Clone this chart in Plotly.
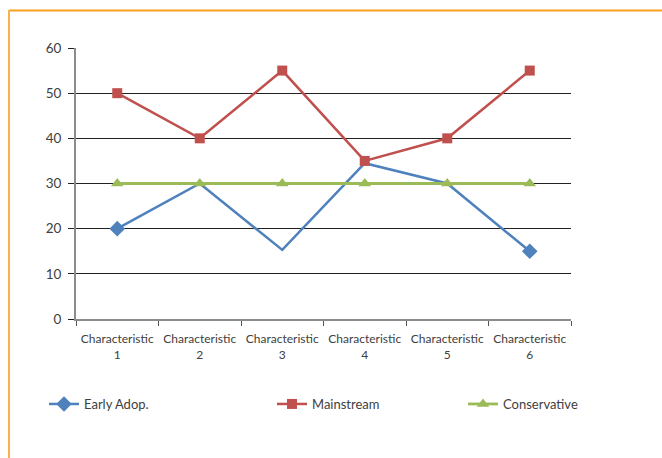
import plotly.graph_objects as go

categories = ["Characteristic<br>1", "Characteristic<br>2", "Characteristic<br>3",
              "Characteristic<br>4", "Characteristic<br>5", "Characteristic<br>6"]
early_adop = [20, 30, 15.3, 34.5, 30, 15]
mainstream = [50, 40, 55, 35, 40, 55]
conservative = [30, 30, 30, 30, 30, 30]

FONT = "Lato"
TXT = "#404040"
BLUE, RED, GREEN = "#4F81BD", "#C0504D", "#9BBB59"
CLEAR = "rgba(0,0,0,0)"

fig = go.Figure()
fig.add_trace(go.Scatter(
    x=categories, y=early_adop, name="Early Adop.", mode="lines+markers",
    line=dict(color=BLUE, width=2.5),
    marker=dict(symbol="diamond", size=12,
                color=[BLUE, CLEAR, CLEAR, CLEAR, CLEAR, BLUE]),
    legend="legend2"))
fig.add_trace(go.Scatter(
    x=categories, y=mainstream, name="Mainstream", mode="lines+markers",
    line=dict(color=RED, width=2.5),
    marker=dict(symbol="square", size=10, color=RED),
    legend="legend3"))
fig.add_trace(go.Scatter(
    x=categories, y=conservative, name="Conservative", mode="lines+markers",
    line=dict(color=GREEN, width=2.8),
    marker=dict(symbol="triangle-up", size=11, color=GREEN),
    legend="legend4"))

W, H = 662, 458
L, R, T, B = 76, 571, 48, 319
pw, ph = R - L, B - T

def px(x):
    return (x - L) / pw

def py(y):
    return (B - y) / ph

leg = dict(orientation="h", yanchor="middle", xanchor="left", y=py(404),
           font=dict(family=FONT, size=13, color=TXT), bgcolor="rgba(0,0,0,0)",
           itemwidth=30)

fig.update_layout(
    width=W, height=H, margin=dict(l=L, r=W - R, t=T, b=H - B),
    paper_bgcolor="white", plot_bgcolor="white",
    font=dict(family=FONT, color=TXT),
    showlegend=True,
    legend2=dict(leg, x=px(44)),
    legend3=dict(leg, x=px(272)),
    legend4=dict(leg, x=px(463)),
    xaxis=dict(
        type="category", tickson="boundaries", ticks="outside", ticklen=5,
        tickcolor="#555555", showline=True, linecolor="#8C8C8C", linewidth=2,
        showgrid=False, tickfont=dict(family=FONT, size=12, color=TXT),
        ticklabelstandoff=8, range=[-0.5, 5.5]),
    yaxis=dict(
        range=[0, 60], dtick=10, ticks="outside", ticklen=6, tickcolor="#222222",
        showline=True, linecolor="#8C8C8C", linewidth=2, showgrid=True,
        gridcolor="#222222", gridwidth=1, zeroline=False,
        tickfont=dict(family=FONT, size=13.5, color=TXT), ticklabelstandoff=4),
    shapes=[
        dict(type="line", xref="paper", yref="paper", x0=px(9), x1=px(662),
             y0=py(10.5), y1=py(10.5), line=dict(color="#F7A11E", width=2)),
        dict(type="line", xref="paper", yref="paper", x0=px(9), x1=px(9),
             y0=py(10), y1=py(458), line=dict(color="#F8B14E", width=2)),
    ],
)

fig.write_html("out.html")
